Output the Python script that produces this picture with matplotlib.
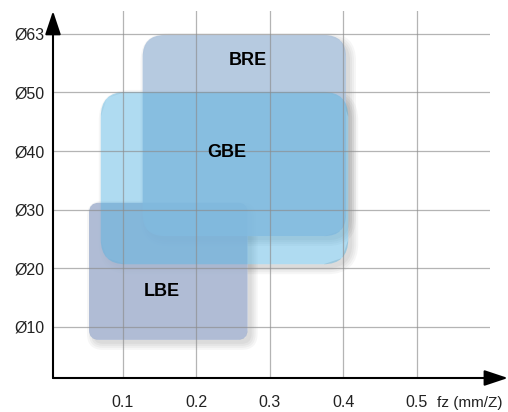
import numpy as np
import matplotlib.pyplot as plt
from matplotlib.patches import FancyBboxPatch
from matplotlib.path import Path

plt.rcParams['font.family'] = ['Liberation Sans', 'DejaVu Sans']

# оси: подача на зуб и диаметры фрез
fz_ticks = [0.1, 0.2, 0.3, 0.4, 0.5]
fz_labels = ['0.1', '0.2', '0.3', '0.4', '0.5']
diam_pos = [1, 2, 3, 4, 5, 6]
diam_labels = ['Ø10', 'Ø20', 'Ø30', 'Ø40', 'Ø50', 'Ø63']

# области применения серий (fz от/до, диаметр от/до по шкале позиций)
series = ['LBE', 'BRE', 'GBE']
fz_lo = [0.054, 0.127, 0.070]
fz_hi = [0.270, 0.404, 0.407]
d_lo = [0.78, 2.55, 2.07]
d_hi = [3.12, 5.98, 5.01]
name_x = [0.153, 0.270, 0.241]
name_y = [1.60, 5.54, 3.97]

box_colors = ['#a2b1ce', '#aac1db', '#4fb1e2']
box_alpha = [0.85, 0.85, 0.45]
corner_px = [10, 22, 25]

fig = plt.figure(figsize=(5.08, 4.12), dpi=100)
ax = fig.add_axes([53 / 508, 34 / 412, 437 / 508, 367 / 412])
ax.set_xlim(0.005, 0.6)
ax.set_ylim(0.13, 6.39)

# пикселей на единицу данных, чтобы скругления были круглыми
p0 = ax.transData.transform((0, 0))
p1 = ax.transData.transform((1, 1))
px_x, px_y = p1 - p0
aspect = px_x / px_y


def rounded(x0, y0, x1, y1, r, **kw):
    return FancyBboxPatch((x0, y0), x1 - x0, y1 - y0,
                          boxstyle=f'round,pad=0,rounding_size={r / px_x}',
                          mutation_aspect=aspect, **kw)


def signed_area(v):
    x, y = v[:, 0], v[:, 1]
    return 0.5 * np.sum(x[:-1] * y[1:] - x[1:] * y[:-1])


def outside_of(patch):
    outer = np.array([[-5, -50], [5, -50], [5, 50], [-5, 50], [-5, -50]], float)
    parts = [Path(outer, closed=True)]
    for poly in patch.get_path().to_polygons():
        if signed_area(poly) > 0:
            poly = poly[::-1]
        parts.append(Path(poly, closed=True))
    return Path.make_compound_path(*parts)


for i in range(len(series)):
    box = rounded(fz_lo[i], d_lo[i], fz_hi[i], d_hi[i], corner_px[i],
                  facecolor=box_colors[i], edgecolor='none',
                  alpha=box_alpha[i], zorder=1 + 0.1 * i)
    clip = outside_of(box)
    # мягкая тень вправо-вниз
    for e in [0, 2, 4, 6]:
        sh = rounded(fz_lo[i] + (4 - e) / px_x, d_lo[i] - (4 + e) / px_y,
                     fz_hi[i] + (4 + e) / px_x, d_hi[i] - (4 - e) / px_y,
                     corner_px[i] + e, facecolor='black', edgecolor='none',
                     alpha=0.035, zorder=0.9)
        ax.add_patch(sh)
        sh.set_clip_path(clip, ax.transData)
    ax.add_patch(box)
    ax.text(name_x[i], name_y[i], series[i], ha='center', va='center',
            fontsize=13, fontweight='bold', color='black', zorder=3)

ax.set_xticks(fz_ticks)
ax.set_xticklabels(fz_labels)
ax.set_yticks(diam_pos)
ax.set_yticklabels(diam_labels)
ax.tick_params(length=0, labelsize=11.5, colors='#222222')
ax.tick_params(axis='x', pad=12)
ax.tick_params(axis='y', pad=6)
ax.grid(True, color='#8c8c8c', alpha=0.65, linewidth=0.9)
for s in ax.spines.values():
    s.set_visible(False)

# оси со стрелками
arrow = dict(arrowstyle='-|>,head_length=1.2,head_width=0.4', color='black',
             lw=1.5, mutation_scale=12, shrinkA=0, shrinkB=0)
ax.annotate('', xy=(1.041, 0), xytext=(0, 0), xycoords='axes fraction',
            arrowprops=arrow)
ax.annotate('', xy=(0, 1), xytext=(0, 0), xycoords='axes fraction',
            arrowprops=arrow)

ax.annotate('fz (mm/Z)', xy=(0.5, 0), xycoords=('data', 'axes fraction'),
            xytext=(15, -18), textcoords='offset points', ha='left', va='center',
            fontsize=11, color='#222222')

fig.savefig('out.png', dpi=100)
